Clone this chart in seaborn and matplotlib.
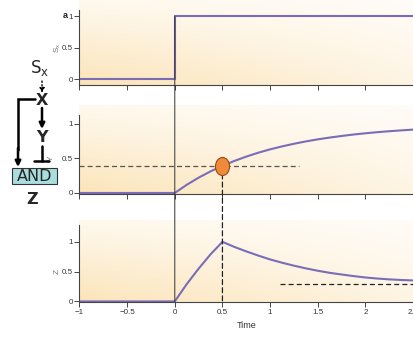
import numpy as np
import matplotlib
matplotlib.use('Agg')
import matplotlib.pyplot as plt
import seaborn as sns
from matplotlib import font_manager
from matplotlib.patches import ConnectionPatch, FancyArrowPatch, Rectangle
from matplotlib.lines import Line2D
from matplotlib.markers import MarkerStyle
from matplotlib.path import Path
from matplotlib.transforms import Affine2D, blended_transform_factory

# Data
sx_time = [-1, 0, 0, 2.5]
sx_vals = [0, 0, 1, 1]

y_time = [-1, 0, 0.125, 0.25, 0.375, 0.5, 0.625, 0.75, 0.875, 1.0, 1.125, 1.25,
          1.375, 1.5, 1.625, 1.75, 1.875, 2.0, 2.125, 2.25, 2.375, 2.5]
y_vals = [0, 0, 0.118, 0.222, 0.313, 0.393, 0.464, 0.527, 0.583, 0.632, 0.675,
          0.713, 0.747, 0.777, 0.803, 0.826, 0.847, 0.865, 0.881, 0.895, 0.907, 0.918]

z_time = y_time
z_vals = [0, 0, 0.29, 0.55, 0.79, 1.0, 0.915, 0.84, 0.77, 0.705, 0.65, 0.60,
          0.555, 0.515, 0.48, 0.452, 0.425, 0.402, 0.384, 0.37, 0.36, 0.352]

t_half = 0.5
y_half = y_vals[y_time.index(t_half)]
y_guide_end = 1.3
z_steady = 0.30
z_guide_start = 1.1

x_ticks = [-1, -0.5, 0, 0.5, 1, 1.5, 2, 2.5]
x_labels = ['\u22121', '\u22120.5', '0', '0.5', '1', '1.5', '2', '2.5']
y_ticks = [0, 0.5, 1]
y_labels = ['0', '0.5', '1']

sns.set_style('ticks')
names = {f.name for f in font_manager.fontManager.ttflist}
tick_font = 'Liberation Sans Narrow' if 'Liberation Sans Narrow' in names else 'Liberation Sans'
plt.rcParams['font.family'] = [tick_font, 'DejaVu Sans']

W, H = 414, 340
fig = plt.figure(figsize=(W / 100, H / 100), dpi=100)


def fx(px):
    return px / W


def fy(py):
    return 1 - py / H


purple = '#7a6db8'
axis_col = '#444444'

# background gradient (cream at lower left, fading to white at top right)
gy, gx = np.mgrid[0:1:120j, 0:1:120j]
amt = (0.25 + 0.75 * (1 - gy) ** 1.1) * (1 - 0.6 * gx)
peach = np.array([252, 228, 184]) / 255
grad = 1 - amt[..., None] * (1 - peach)

left, right = 79.5, 413.5
panels = [
    # top px, bottom px, ylim, spine top
    (0, 85, (-0.095, 1.254), 1.1),
    (105, 194, (-0.015, 1.275), 1.13),
    (220, 302, (-0.01, 1.367), 1.28),
]
axes = []
for top, bot, ylim, stop in panels:
    ax = fig.add_axes([fx(left), fy(bot), (right - left) / W, (bot - top) / H])
    ax.imshow(grad, extent=[0, 1, 0, 1], transform=ax.transAxes, aspect='auto',
              origin='lower', zorder=0)
    ax.set_xlim(-1, 2.505)
    ax.set_ylim(*ylim)
    sns.despine(ax=ax, top=True, right=True)
    ax.spines['left'].set_bounds(ylim[0], stop)
    for s in ['left', 'bottom']:
        ax.spines[s].set_color(axis_col)
        ax.spines[s].set_linewidth(0.8)
    ax.set_xticks(x_ticks)
    ax.set_yticks(y_ticks)
    ax.set_yticklabels(y_labels)
    ax.tick_params(length=3.5, width=0.7, color=axis_col, labelsize=5.8,
                   labelcolor='#333333', pad=1.2)
    axes.append(ax)

ax1, ax2, ax3 = axes
ax1.set_xticklabels([])
ax2.set_xticklabels([])
ax3.set_xticklabels(x_labels)
ax3.set_xlabel('Time', fontsize=6.5, color='#333333', labelpad=4)

sns.lineplot(x=sx_time, y=sx_vals, ax=ax1, color=purple, lw=1.5,
             estimator=None, sort=False)
sns.lineplot(x=y_time, y=y_vals, ax=ax2, color=purple, lw=1.5,
             estimator=None, sort=False)
sns.lineplot(x=z_time, y=z_vals, ax=ax3, color=purple, lw=1.5,
             estimator=None, sort=False)

ax2.plot([-1, y_guide_end], [y_half, y_half], color='#555555', lw=0.9,
         dashes=(4, 2.5), zorder=3)
ax3.plot([z_guide_start, 2.5], [z_steady, z_steady], color='#222222', lw=0.9,
         dashes=(4, 2.5), zorder=3)

# axis labels
for ax, lab, px in [(ax1, 'S$_\\mathregular{x}$', 58), (ax2, 'Y', 51), (ax3, 'Z', 57)]:
    tr = blended_transform_factory(ax.transAxes, ax.transData)
    ax.text((px - left) / (right - left), 0.5, lab, transform=tr, rotation=90,
            ha='center', va='center', fontsize=6, color='#777777')
fig.text(fx(65), fy(15), 'a', fontsize=6.5, fontweight='bold', ha='center',
         va='center', color='#222222')

# vertical guide lines running through the panels
vline = ConnectionPatch(xyA=(0, 1), coordsA=ax1.transData, xyB=(0, 0),
                        coordsB=ax3.transData, color='#333333', lw=0.7, zorder=2)
fig.add_artist(vline)
dline = ConnectionPatch(xyA=(t_half, y_half), coordsA=ax2.transData,
                        xyB=(t_half, 0), coordsB=ax3.transData, color='#222222',
                        lw=0.9, linestyle=(0, (4, 2.5)), zorder=2)
fig.add_artist(dline)

oval = MarkerStyle(Path.unit_circle().transformed(Affine2D().scale(0.78, 1.0)))
fig.add_artist(Line2D([t_half], [y_half], transform=ax2.transData, marker=oval,
                      markersize=13, markerfacecolor='#ef8a3a',
                      markeredgecolor='#9a4a14', markeredgewidth=0.8,
                      linestyle='none', zorder=4))

# circuit diagram on the left
lw_c = 1.8
fig.text(fx(40), fy(68), 'S$_\\mathregular{x}$', fontsize=12, ha='center',
         va='center', family='DejaVu Sans')
fig.text(fx(42), fy(100), 'X', fontsize=11.5, fontweight='bold', ha='center',
         va='center', family='DejaVu Sans')
fig.text(fx(42), fy(137), 'Y', fontsize=11.5, fontweight='bold', ha='center',
         va='center', family='DejaVu Sans')
fig.add_artist(Rectangle((fx(12), fy(184)), fx(45), 16 / H, transform=fig.transFigure,
                         fc='#a9dedf', ec='#333333', lw=0.8))
fig.text(fx(34.5), fy(176), 'AND', fontsize=11.5, ha='center', va='center',
         family='DejaVu Sans')
fig.text(fx(32), fy(199), 'Z', fontsize=11.5, fontweight='bold', ha='center',
         va='center', family='DejaVu Sans')

fig.add_artist(FancyArrowPatch((fx(42), fy(81)), (fx(42), fy(93)),
                               transform=fig.transFigure, arrowstyle='-|>',
                               mutation_scale=7, lw=1.0, linestyle=':',
                               color='black', shrinkA=0, shrinkB=0))
fig.add_artist(FancyArrowPatch((fx(42), fy(108)), (fx(42), fy(129)),
                               transform=fig.transFigure, arrowstyle='-|>',
                               mutation_scale=8, lw=lw_c, color='black',
                               shrinkA=0, shrinkB=0))
fig.add_artist(Line2D([fx(42), fx(42)], [fy(146), fy(161)], color='black',
                      lw=lw_c, transform=fig.transFigure))
fig.add_artist(Line2D([fx(34), fx(49)], [fy(161), fy(161)], color='black',
                      lw=lw_c, transform=fig.transFigure))
fig.add_artist(Line2D([fx(35), fx(18), fx(18)], [fy(99), fy(99), fy(150)],
                      color='black', lw=lw_c, transform=fig.transFigure,
                      solid_joinstyle='miter'))
fig.add_artist(FancyArrowPatch((fx(18), fy(148)), (fx(18), fy(167)),
                               transform=fig.transFigure, arrowstyle='-|>',
                               mutation_scale=8, lw=lw_c, color='black',
                               shrinkA=0, shrinkB=0))

fig.savefig('out.png', dpi=100)
